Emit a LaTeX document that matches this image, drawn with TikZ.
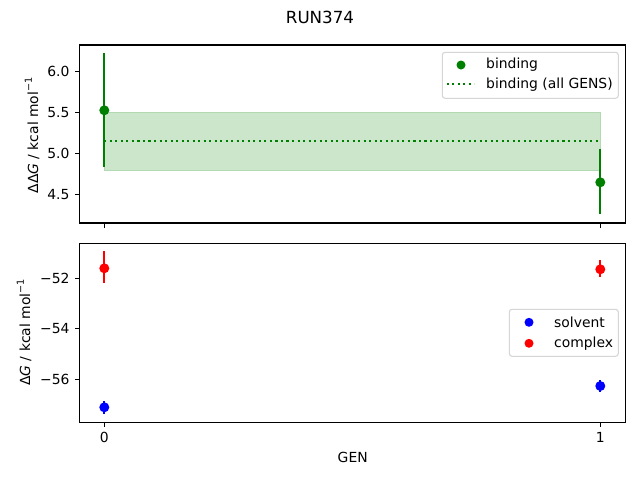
\documentclass[tikz,border=0pt]{standalone}
\usepackage{fontspec}
\setmainfont{DejaVu Sans}
\definecolor{mgreen}{HTML}{008000}
\definecolor{band}{HTML}{CCE6CC}
\definecolor{bandedge}{HTML}{B2D9B2}
\definecolor{lgedge}{HTML}{CCCCCC}
\definecolor{mblue}{HTML}{0000FF}
\definecolor{mred}{HTML}{FF0000}
\begin{document}
\begin{tikzpicture}[x=1pt,y=-1pt,
  every node/.style={font=\fontsize{13.9}{16}\selectfont, inner sep=0pt, text=black},
  spine/.style={line width=1.1pt, black},
  tickm/.style={line width=1.1pt, black},
  ebar/.style={line width=2.08pt},
  dot/.style={circle, inner sep=0pt, minimum size=10pt},
  ldot/.style={circle, inner sep=0pt, minimum size=9pt},
  lgbox/.style={draw=lgedge, fill=white, fill opacity=0.8, draw opacity=0.8, rounded corners=2.8pt, line width=1.1pt},
  dotline/.style={mgreen, line width=2.08pt, dash pattern=on 2.08pt off 3.44pt}
]
\useasboundingbox[fill=white] (0,0) rectangle (640,480);

% title
\node[font=\fontsize{16.7}{19}\selectfont] (title) at (320,17) {RUN374};

% ---------- top axes ----------
\fill[band] (104.3,112) rectangle (600.3,170.7);
\draw[bandedge, line width=1pt] (104.3,112) rectangle (600.3,170.7);
\draw[dotline] (104.3,140.7) -- (600.3,140.7);
\draw[mgreen, ebar] (104.3,53.3) -- (104.3,167);
\draw[mgreen, ebar] (600.3,149) -- (600.3,214.3);
\node[dot, fill=mgreen] (p0) at (104.3,110.3) {};
\node[dot, fill=mgreen] (p1) at (600.3,182.3) {};
\draw[spine] (79.5,45) rectangle (625.9,223);
% y ticks
\foreach \yy/\lab in {71.5/6.0, 112.5/5.5, 153.5/5.0, 194.5/4.5}{
  \draw[tickm] (79.5,\yy) -- (74.6,\yy);
  \node[anchor=east] at (69.7,\yy) {\lab};
}
% x ticks
\foreach \xx in {104.3, 600.3}{
  \draw[tickm] (\xx,223) -- (\xx,227.9);
}
\node[rotate=90] (ylabtop) at (32,135.5) {ΔΔ\textit{G} / kcal mol\raisebox{0.45em}{\fontsize{9.7}{11}\selectfont −1}};

% legend top
\draw[lgbox] (442.3,52.3) rectangle (618.3,98.3);
\node[ldot, fill=mgreen] (lg1) at (461,65) {};
\node[anchor=west] (lgt1) at (486,65) {binding};
\coordinate (lda) at (446.7,84.3);
\coordinate (ldb) at (474.3,84.3);
\draw[dotline] (lda) -- (ldb);
\node[anchor=west] (lgt2) at (486,84.3) {binding (all GENS)};

% ---------- bottom axes ----------
\draw[mred, ebar] (104.3,251) -- (104.3,283.3);
\node[dot, fill=mred] (r0) at (104.3,268.3) {};
\draw[mblue, ebar] (104.3,401) -- (104.3,414);
\node[dot, fill=mblue] (b0) at (104.3,407.3) {};
\draw[mred, ebar] (600.3,260) -- (600.3,276.7);
\node[dot, fill=mred] (r1) at (600.3,269.3) {};
\draw[mblue, ebar] (600.3,380) -- (600.3,391.7);
\node[dot, fill=mblue] (b1) at (600.3,386) {};
\draw[spine] (79.5,243.3) rectangle (625.9,422.3);
\foreach \yy/\lab in {278.4/−52, 328.8/−54, 379.2/−56}{
  \draw[tickm] (79.5,\yy) -- (74.6,\yy);
  \node[anchor=east] at (69.7,\yy) {\lab};
}
\draw[tickm] (104.3,422.3) -- (104.3,427.2);
\draw[tickm] (600.3,422.3) -- (600.3,427.2);
\node[anchor=north] (xt0) at (104.3,432) {0};
\node[anchor=north] (xt1) at (600.3,432) {1};
\node (xlab) at (352.7,457) {GEN};
\node[rotate=90] (ylabbot) at (24,332.5) {Δ\textit{G} / kcal mol\raisebox{0.45em}{\fontsize{9.7}{11}\selectfont −1}};

% legend bottom
\draw[lgbox] (509.3,309.3) rectangle (618.3,356.3);
\node[ldot, fill=mblue] (lb1) at (529,322.3) {};
\node[anchor=west] (lbt1) at (554,322.3) {solvent};
\node[ldot, fill=mred] (lb2) at (529,343.3) {};
\node[anchor=west] (lbt2) at (554,343.3) {complex};
\end{tikzpicture}
\end{document}
